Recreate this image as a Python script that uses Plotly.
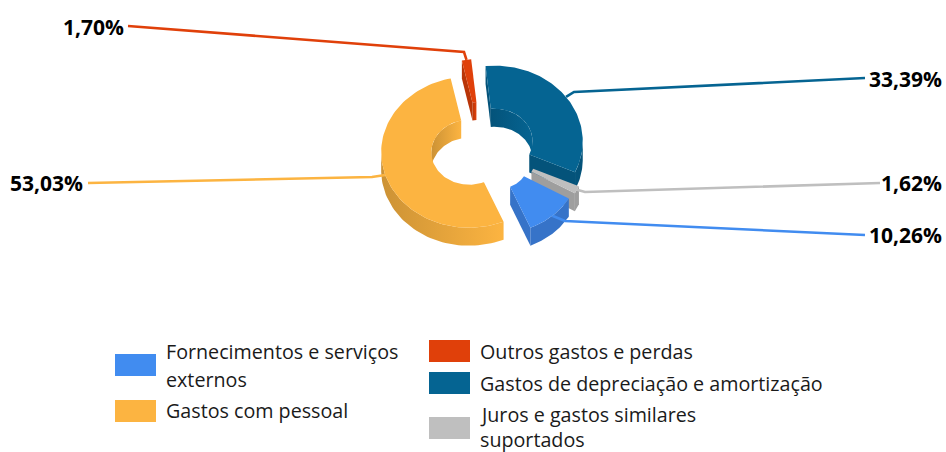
import numpy as np
import plotly.graph_objects as go

# ---- data ----
categories = ["Gastos de depreciação e amortização", "Juros e gastos similares suportados",
              "Fornecimentos e serviços externos", "Gastos com pessoal", "Outros gastos e perdas"]
shares = [33.39, 1.62, 10.26, 53.03, 1.70]
share_labels = ["33,39%", "1,62%", "10,26%", "53,03%", "1,70%"]

# ---- style / layout ----
colors = ["#056492", "#BFBFBF", "#418CF0", "#FCB441", "#E0400A"]
dark = ["#04537A", "#9E9E9E", "#3673C8", "#CC9235", "#B93508"]
pull = [0.165, 0.20, 0.27, 0.165, 0.19]
scale = [1, 1, 0.92, 1, 1]
hole = [0.43, 0.43, 0.36, 0.43, 0.43]
draw_order = [4, 0, 3, 1, 2]
CX, CY, RX, RY, DEPTH, START = 483, 148.5, 88, 75.5, 18, -6

W, H = 946, 452
label_pos = [(944, 79, "right"), (944, 183, "right"), (944, 235, "right"), (85, 183, "right"), (126, 27, "right")]
leader_elbow = [(574, 92), (585, 192), (565, 221), (372, 177), (464, 52)]
leader_end = [(865, 78), (880, 183), (865, 235), (88, 183), (128, 26)]
legend_boxes = [(2, 115, 354), (3, 115, 400), (4, 429, 340), (0, 429, 372), (1, 429, 417)]
legend_text = [("Fornecimentos e serviços", 164, 351), ("externos", 164, 379), ("Gastos com pessoal", 164, 410),
               ("Outros gastos e perdas", 478, 351), ("Gastos de depreciação e amortização", 478, 383),
               ("Juros e gastos similares", 478, 414), ("suportados", 478, 439)]

fig = go.Figure()


def poly(xs, ys, color, name, grad=None):
    kw = dict(fillgradient=dict(type="horizontal", colorscale=[[0, grad[0]], [1, grad[1]]])) if grad else dict(fillcolor=color)
    fig.add_trace(go.Scatter(x=list(xs), y=list(ys), mode="lines", fill="toself", line=dict(width=0),
                             name=name, hoverinfo="skip", showlegend=False, **kw))


total = sum(shares)
edges = START + np.concatenate([[0], np.cumsum(shares)]) * 360 / total
geo = []
for i in range(len(shares)):
    a0, a1 = edges[i], edges[i + 1]
    mid = np.radians((a0 + a1) / 2)
    ax = CX + pull[i] * RX * np.sin(mid)
    ay = CY - pull[i] * RY * np.cos(mid)
    geo.append((a0, a1, ax, ay, RX * scale[i], RY * scale[i], mid))

for i in draw_order:
    a0, a1, ax, ay, rx, ry, mid = geo[i]
    th = np.radians(np.linspace(a0, a1, 90))
    ox, oy = ax + rx * np.sin(th), ay - ry * np.cos(th)
    ix, iy = ax + hole[i] * rx * np.sin(th), ay - hole[i] * ry * np.cos(th)
    # inner wall (upper half of the hole)
    mask = np.cos(th) > 0
    if mask.any():
        poly(np.r_[ix[mask], ix[mask][::-1]], np.r_[iy[mask], iy[mask][::-1] + DEPTH],
             dark[i], categories[i], grad=(dark[i], colors[i]))
    # cut faces
    if -np.sin(th[0]) > 0:
        poly([ix[0], ox[0], ox[0], ix[0]], [iy[0], oy[0], oy[0] + DEPTH, iy[0] + DEPTH], dark[i], categories[i])
    if np.sin(th[-1]) > 0:
        poly([ix[-1], ox[-1], ox[-1], ix[-1]], [iy[-1], oy[-1], oy[-1] + DEPTH, iy[-1] + DEPTH], dark[i], categories[i])
    # outer wall (lower half)
    mask = np.cos(th) < 0
    if mask.any():
        poly(np.r_[ox[mask], ox[mask][::-1]], np.r_[oy[mask], oy[mask][::-1] + DEPTH],
             dark[i], categories[i], grad=(dark[i], colors[i]) if i == 3 else None)
    # top face
    poly(np.r_[ox, ix[::-1]], np.r_[oy, iy[::-1]], colors[i], categories[i])

# leader lines start on the outer edge of each slice
for i in range(len(shares)):
    a0, a1, ax, ay, rx, ry, mid = geo[i]
    sx, sy = ax + rx * np.sin(mid), ay - ry * np.cos(mid)
    fig.add_trace(go.Scatter(x=[sx, leader_elbow[i][0], leader_end[i][0]], y=[sy, leader_elbow[i][1], leader_end[i][1]],
                             mode="lines", line=dict(color=colors[i], width=2.6), hoverinfo="skip", showlegend=False))

annotations = []
for i, (x, y, anchor) in enumerate(label_pos):
    annotations.append(dict(x=x, y=y, xref="x", yref="y", text="<b>%s</b>" % share_labels[i], showarrow=False,
                            xanchor=anchor, yanchor="middle", font=dict(family="Open Sans", size=21, color="#000000")))
for t, x, y in legend_text:
    annotations.append(dict(x=x, y=y, xref="x", yref="y", text=t, showarrow=False, xanchor="left", yanchor="middle",
                            font=dict(family="Open Sans", size=19.7, color="#1a1a1a")))
shapes = [dict(type="rect", xref="x", yref="y", x0=x, x1=x + 41, y0=y, y1=y + 22,
               fillcolor=colors[i], line=dict(width=0), layer="above") for i, x, y in legend_boxes]

fig.update_layout(width=W, height=H, margin=dict(l=0, r=0, t=0, b=0), paper_bgcolor="white", plot_bgcolor="white",
                  showlegend=False, annotations=annotations, shapes=shapes,
                  xaxis=dict(range=[0, W], visible=False, fixedrange=True),
                  yaxis=dict(range=[H, 0], visible=False, fixedrange=True))
fig.write_html("out.html", config=dict(displayModeBar=False),
               post_script="document.body.style.margin='0';document.documentElement.style.overflow='hidden';")
